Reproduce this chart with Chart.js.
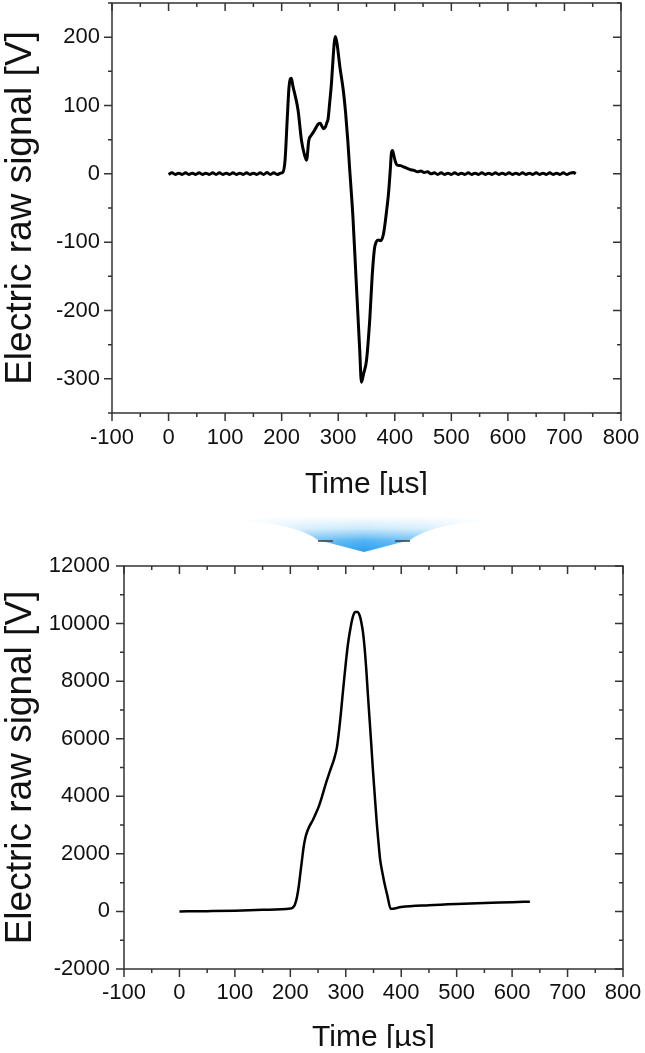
<!DOCTYPE html>
<html>
<head>
<meta charset="utf-8">
<script src="https://cdn.jsdelivr.net/npm/chart.js@4/dist/chart.umd.min.js"></script>
<style>
  body { margin: 0; background: #fff; overflow: hidden; }
  #wrap { position: relative; width: 645px; height: 1053px; }
  canvas { position: absolute; left: 0; }
  #top { top: 0; }
  #arrow { top: 500px; }
  #bottom { top: 530px; }
</style>
</head>
<body>
<div id="wrap">
  <canvas id="top" width="645" height="495"></canvas>
  <canvas id="arrow" width="645" height="60"></canvas>
  <canvas id="bottom" width="645" height="518"></canvas>
</div>
<script>
// raw signal (top)
const topTime = [0, 6, 12, 18, 24, 30, 36, 42, 48, 54, 60, 66, 72, 78, 84, 90, 96, 102, 108, 114,
  120, 126, 132, 138, 144, 150, 156, 162, 168, 174, 180, 186, 192, 198,
  202, 206, 210, 213, 217, 220, 224, 229, 235, 240, 244, 248, 252, 256, 261, 265, 268, 271, 274, 277,
  280, 282, 285, 288, 291, 293, 295, 298, 303, 309, 313, 317, 320, 326, 332, 338, 341, 345, 350, 356,
  360, 364, 367, 371, 375, 380, 385, 389, 392, 394, 396, 398, 401, 404, 410, 416, 422, 428, 434, 440,
  446, 452, 458, 464, 470, 476, 482, 488, 494, 500, 506, 512, 518, 524, 530, 536, 542, 548, 554, 560,
  566, 572, 578, 584, 590, 596, 602, 608, 614, 620, 626, 632, 638, 644, 650, 656, 662, 668, 674, 680,
  686, 692, 698, 704, 710, 716, 720];
const topSignal = [-1, 1.5, -1, 1, -1, 1.5, -1, 1, -1, 1.5, -1, 1, -1, 1.5, -1, 1.5, -1, 1, -1, 1.5,
  -1, 1, -1, 1.5, -1, 1, -1, 1.5, -1, 2, -1, 1.5, -1, 1,
  2, 20, 83, 127, 140, 128, 114, 93, 49, 29, 20, 49, 56, 61, 68, 73, 74, 70, 66, 68,
  75, 80, 105, 132, 170, 192, 201, 190, 156, 122, 90, 48, 10, -63, -161, -258, -305, -292, -273, -210,
  -150, -110, -100, -97, -98, -88, -58, -28, 5, 30, 34, 28, 18, 13, 12, 10, 8, 6, 5, 3,
  4, 2, 3, 0, 1.5, -1, 1.5, -1, 1, -1, 1.5, -1, 1, -1, 1.5, -1, 1, -1, 1.5, -1,
  1, -1, 1.5, -1, 1, -1, 1.5, -1, 1, -1, 1.5, -1, 1, -1, 1.5, -1, 1, -1, 1.5, -1,
  1, -1, 1.5, -1, 1, 2, 0];

// processed signal (bottom)
const botTime = [0, 50, 100, 150, 200, 204, 208, 212, 215, 218, 221, 224, 227, 230, 235, 240, 246, 251,
  257, 264, 271, 279, 284, 288, 291, 294, 297, 300, 304, 309, 313, 317, 321, 325, 328, 331, 334, 337,
  340, 343, 346, 349, 352, 356, 359, 362, 366, 370, 375, 381, 400, 450, 500, 550, 600, 632];
const botSignal = [0, 10, 25, 55, 100, 130, 220, 500, 850, 1310, 1780, 2240, 2550, 2750, 2980, 3150, 3400, 3630,
  3980, 4440, 4850, 5300, 5700, 6300, 6850, 7460, 8050, 8620, 9300, 9900, 10250, 10400, 10400, 10280, 10050, 9700, 9150, 8400,
  7500, 6650, 5800, 4900, 4100, 3050, 2400, 1800, 1350, 960, 550, 90, 150, 215, 260, 295, 320, 340];

const timeTicks = [-100, 0, 100, 200, 300, 400, 500, 600, 700, 800];
const topYTicks = [-300, -200, -100, 0, 100, 200];
const botYTicks = [-2000, 0, 2000, 4000, 6000, 8000, 10000, 12000];

const FONT = "'Liberation Sans', Arial, sans-serif";
const INK = '#111';

// box with outward ticks on left/bottom, inward on top/right, plus minor ticks
const framePlugin = {
  id: 'frame',
  afterDraw(chart, args, opts) {
    const { ctx, chartArea: a, scales } = chart;
    const sx = scales.x, sy = scales.y;
    ctx.save();
    ctx.strokeStyle = '#333';
    ctx.lineWidth = 1.5;
    ctx.strokeRect(a.left, a.top, a.right - a.left, a.bottom - a.top);
    ctx.beginPath();
    const mark = (vals, len) => {
      vals.forEach(v => {
        const px = sx.getPixelForValue(v);
        ctx.moveTo(px, a.bottom); ctx.lineTo(px, a.bottom + len);
        ctx.moveTo(px, a.top); ctx.lineTo(px, a.top + len);
      });
    };
    const markY = (vals, len) => {
      vals.forEach(v => {
        const py = sy.getPixelForValue(v);
        ctx.moveTo(a.left, py); ctx.lineTo(a.left - len, py);
        ctx.moveTo(a.right, py); ctx.lineTo(a.right - len, py);
      });
    };
    const mids = t => t.slice(1).map((v, i) => (v + t[i]) / 2);
    mark(opts.x, 8);
    mark(mids(opts.x), 4);
    markY(opts.y, 8);
    const ym = mids(opts.y);
    const step = opts.y[1] - opts.y[0];
    if (opts.yMinorOut) {
      ym.push(opts.y[opts.y.length - 1] + step / 2);
      ym.unshift(opts.y[0] - step / 2);
    }
    markY(ym, 4);
    ctx.stroke();
    ctx.restore();
  }
};

// no label overhang padding: the plot box is placed by layout.padding only
function noOverhang(s) {
  s.paddingLeft = 0; s.paddingRight = 0; s.paddingTop = 0; s.paddingBottom = 0;
}

function makeChart(id, times, values, yTicks, opt) {
  const points = times.map((t, i) => ({ x: t, y: values[i] }));
  return new Chart(id, {
    type: 'line',
    data: {
      datasets: [{
        data: points,
        borderColor: '#000',
        borderWidth: opt.lineWidth,
        pointRadius: 0,
        cubicInterpolationMode: 'monotone',
        fill: false,
      }],
    },
    options: {
      responsive: false,
      animation: false,
      layout: {
        autoPadding: false,
        padding: { top: opt.padTop, right: opt.padRight, left: 0, bottom: 0 },
      },
      plugins: {
        legend: { display: false },
        tooltip: { enabled: false },
        frame: { x: timeTicks, y: yTicks, yMinorOut: opt.yMinorOut },
      },
      scales: {
        x: {
          type: 'linear',
          min: -100,
          max: 800,
          grid: { display: false, drawTicks: false },
          border: { display: false },
          afterBuildTicks: s => { s.ticks = timeTicks.map(v => ({ value: v })); },
          afterFit: s => { s.height = opt.xAxisHeight; noOverhang(s); },
          ticks: {
            autoSkip: false,
            maxRotation: 0,
            padding: opt.xLabelPad,
            color: INK,
            font: { family: FONT, size: 22 },
            callback: v => String(v),
          },
          title: {
            display: true,
            text: 'Time [\u00b5s]',
            color: INK,
            padding: 0,
            font: { family: FONT, size: 30, lineHeight: 0.7 },
          },
        },
        y: {
          min: opt.yMin,
          max: opt.yMax,
          grid: { display: false, drawTicks: false },
          border: { display: false },
          afterBuildTicks: s => { s.ticks = yTicks.map(v => ({ value: v })); },
          afterFit: s => { s.width = opt.yAxisWidth; noOverhang(s); },
          ticks: {
            autoSkip: false,
            padding: opt.yLabelPad,
            color: INK,
            font: { family: FONT, size: 22 },
            callback: v => String(v),
          },
          title: {
            display: true,
            text: 'Electric raw signal [V]',
            color: INK,
            padding: 0,
            font: { family: FONT, size: 37, lineHeight: 1.15 },
          },
        },
      },
    },
    plugins: [framePlugin],
  });
}

makeChart('top', topTime, topSignal, topYTicks, {
  yMin: -350, yMax: 250, lineWidth: 3,
  padTop: 3, padRight: 24, yAxisWidth: 112, xAxisHeight: 82,
  xLabelPad: 12, yLabelPad: 12, yMinorOut: true,
});

makeChart('bottom', botTime, botSignal, botYTicks, {
  yMin: -2000, yMax: 12000, lineWidth: 2.5,
  padTop: 36, padRight: 22, yAxisWidth: 124, xAxisHeight: 79,
  xLabelPad: 11, yLabelPad: 14, yMinorOut: false,
});

// blue arrow between the two panels
(function drawArrow() {
  const c = document.getElementById('arrow');
  const ctx = c.getContext('2d');
  const x0 = 364, top = 16, base = 40, tip = 52;
  ctx.beginPath();
  ctx.moveTo(x0 - 140, top + 4);
  ctx.quadraticCurveTo(x0, top - 4, x0 + 140, top + 4);
  ctx.quadraticCurveTo(x0 + 70, top + 6, x0 + 46, base);
  ctx.lineTo(x0, tip);
  ctx.lineTo(x0 - 46, base);
  ctx.quadraticCurveTo(x0 - 70, top + 6, x0 - 140, top + 4);
  ctx.closePath();
  const g = ctx.createLinearGradient(0, top, 0, tip);
  g.addColorStop(0, '#ffffff');
  g.addColorStop(0.35, '#cde9fb');
  g.addColorStop(0.7, '#4fb3f3');
  g.addColorStop(1, '#2a9eee');
  ctx.fillStyle = g;
  ctx.fill();
  ctx.globalCompositeOperation = 'destination-in';
  const h = ctx.createLinearGradient(x0 - 140, 0, x0 + 140, 0);
  h.addColorStop(0, 'rgba(0,0,0,0)');
  h.addColorStop(0.3, 'rgba(0,0,0,0.8)');
  h.addColorStop(0.5, 'rgba(0,0,0,1)');
  h.addColorStop(0.7, 'rgba(0,0,0,0.8)');
  h.addColorStop(1, 'rgba(0,0,0,0)');
  ctx.fillStyle = h;
  ctx.fillRect(0, 0, c.width, c.height);
  ctx.globalCompositeOperation = 'source-over';
  ctx.fillStyle = 'rgba(70,70,70,0.8)';
  ctx.fillRect(x0 - 46, base, 15, 2);
  ctx.fillRect(x0 + 31, base, 15, 2);
})();
</script>
</body>
</html>
